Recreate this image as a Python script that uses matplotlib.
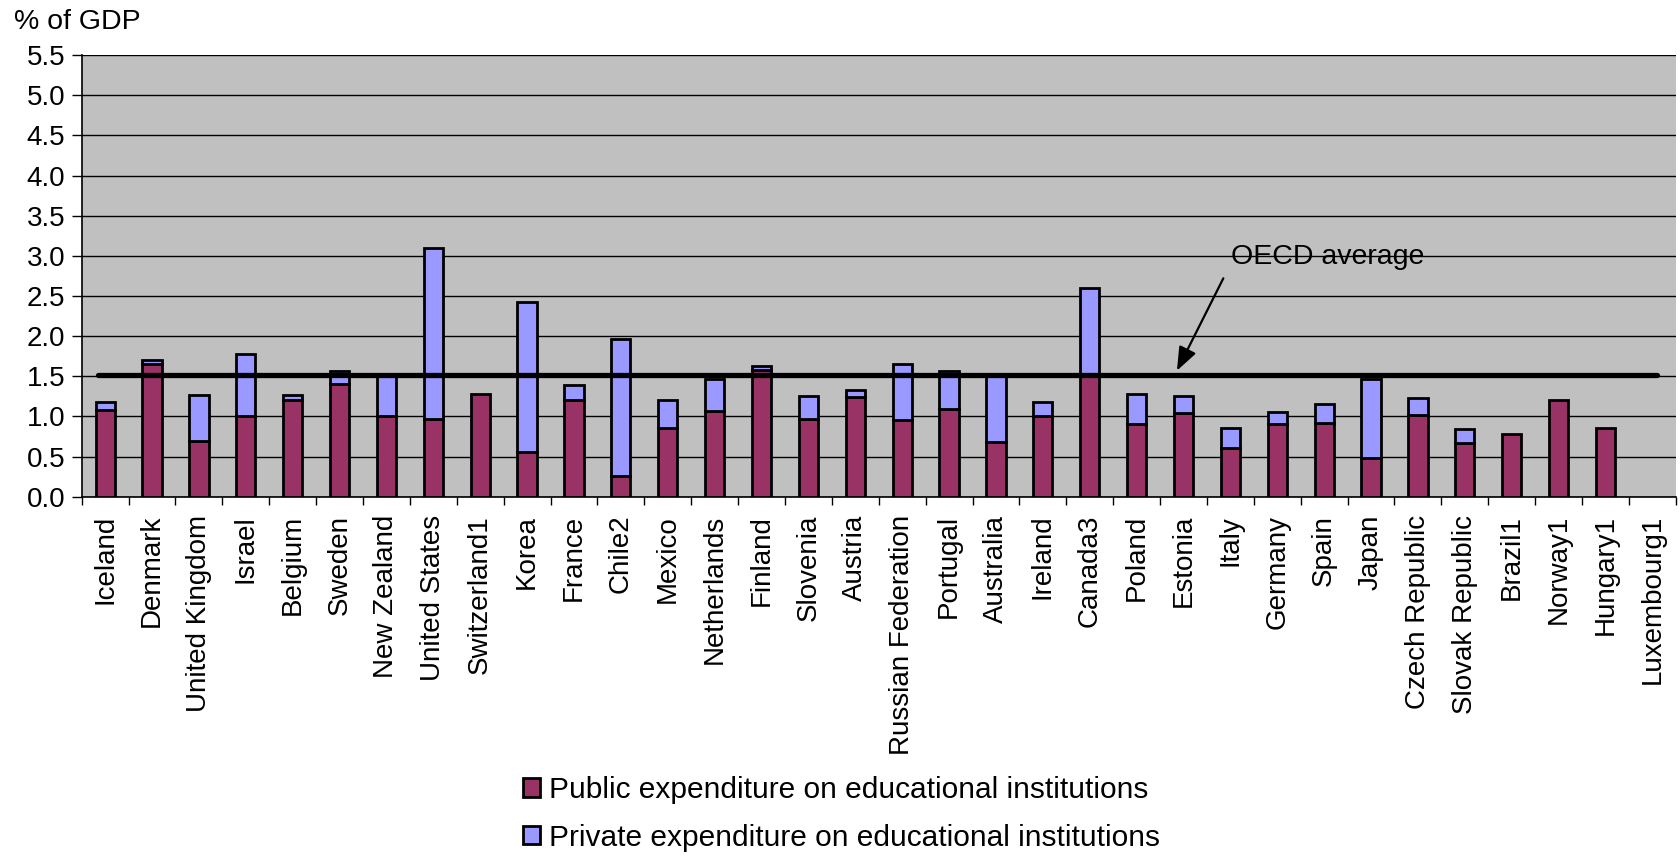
import matplotlib

matplotlib.use("Agg")
import matplotlib.patches as mpatches
import matplotlib.pyplot as plt
import numpy as np

plt.rcParams["font.family"] = ["Liberation Sans", "DejaVu Sans"]

# Data (% of GDP)
countries = [
    "Iceland", "Denmark", "United Kingdom", "Israel", "Belgium", "Sweden",
    "New Zealand", "United States", "Switzerland1", "Korea", "France",
    "Chile2", "Mexico", "Netherlands", "Finland", "Slovenia", "Austria",
    "Russian Federation", "Portugal", "Australia", "Ireland", "Canada3",
    "Poland", "Estonia", "Italy", "Germany", "Spain", "Japan",
    "Czech Republic", "Slovak Republic", "Brazil1", "Norway1", "Hungary1",
    "Luxembourg1",
]
public = [
    1.08, 1.65, 0.69, 1.01, 1.20, 1.41, 1.01, 0.97, 1.28, 0.56, 1.21,
    0.26, 0.85, 1.07, 1.58, 0.97, 1.24, 0.96, 1.09, 0.68, 1.00, 1.52,
    0.91, 1.04, 0.61, 0.91, 0.92, 0.48, 1.02, 0.67, 0.78, 1.21, 0.86,
    0.00,
]
private = [
    0.10, 0.05, 0.58, 0.77, 0.07, 0.15, 0.50, 2.13, 0.00, 1.86, 0.18,
    1.71, 0.35, 0.39, 0.05, 0.28, 0.09, 0.69, 0.47, 0.82, 0.18, 1.08,
    0.37, 0.22, 0.25, 0.15, 0.23, 0.99, 0.21, 0.17, 0.00, 0.00, 0.00,
    0.00,
]
oecd_avg = 1.52
yticks = [0.0, 0.5, 1.0, 1.5, 2.0, 2.5, 3.0, 3.5, 4.0, 4.5, 5.0, 5.5]

PUBLIC_COLOR = "#993366"
PRIVATE_COLOR = "#9999FF"
BG = "#C0C0C0"
FS = 20

fig = plt.figure(figsize=(16.81, 8.56), dpi=100)
ax = fig.add_axes([0.0486, 0.4197, 0.9969 - 0.0486, 0.9357 - 0.4197])
ax.set_facecolor(BG)

x = np.arange(len(countries))
pub = np.array(public)
priv = np.array(private)
width = 0.41

m_pub = pub > 0
ax.bar(x[m_pub], pub[m_pub], width, color=PUBLIC_COLOR, edgecolor="black",
       linewidth=2.0, zorder=3)
m_priv = priv > 0
ax.bar(x[m_priv], priv[m_priv], width, bottom=pub[m_priv], color=PRIVATE_COLOR,
       edgecolor="black", linewidth=2.0, zorder=3)

# OECD average line
ax.plot([x[0] - 0.15, x[-1] + 0.1], [oecd_avg, oecd_avg], color="black",
        linewidth=3.8, solid_capstyle="round", zorder=4)
ax.text(26.07, 2.98, "OECD average", fontsize=20.5, ha="center", va="center", zorder=5)
ax.annotate(
    "",
    xy=(22.86, 1.57), xytext=(23.85, 2.72),
    arrowprops=dict(arrowstyle="-|>,head_length=0.72,head_width=0.28",
                    color="black", lw=1.6, mutation_scale=20,
                    shrinkA=0, shrinkB=0),
    zorder=5,
)

ax.set_xlim(-0.5, len(countries) - 0.5)
ax.set_ylim(0, 5.5)
ax.set_yticks(yticks)
ax.set_yticklabels([f"{v:.1f}" for v in yticks], fontsize=FS)
ax.yaxis.grid(True, color="black", linewidth=1.0, zorder=1)
ax.set_axisbelow(True)

ax.set_xticks(x)
ax.set_xticklabels(countries, rotation=90, fontsize=20)
ax.set_xticks(np.arange(-0.5, len(countries)), minor=True)
ax.tick_params(axis="x", which="major", length=0, pad=13)
ax.tick_params(axis="x", which="minor", length=6, width=1.0, direction="out")
ax.tick_params(axis="y", length=7, width=1.0, direction="out", pad=5)

for side in ("top", "right"):
    ax.spines[side].set_visible(False)
for side in ("left", "bottom"):
    ax.spines[side].set_color("black")
    ax.spines[side].set_linewidth(1.2)

fig.text(14 / 1681, 1 - 29 / 856, "% of GDP", fontsize=20.5, va="baseline", ha="left")

handles = [
    mpatches.Patch(facecolor=PUBLIC_COLOR, edgecolor="black", linewidth=2.0,
                   label="Public expenditure on educational institutions"),
    mpatches.Patch(facecolor=PRIVATE_COLOR, edgecolor="black", linewidth=2.0,
                   label="Private expenditure on educational institutions"),
]
fig.legend(
    handles=handles,
    loc="upper left",
    bbox_to_anchor=(523 / 1681, 1 - 776 / 856),
    frameon=False,
    fontsize=21.5,
    handlelength=0.56,
    handleheight=0.56,
    handletextpad=0.3,
    labelspacing=0.66,
    borderpad=0,
    borderaxespad=0,
)

fig.savefig("out.png", dpi=100, facecolor="white")
